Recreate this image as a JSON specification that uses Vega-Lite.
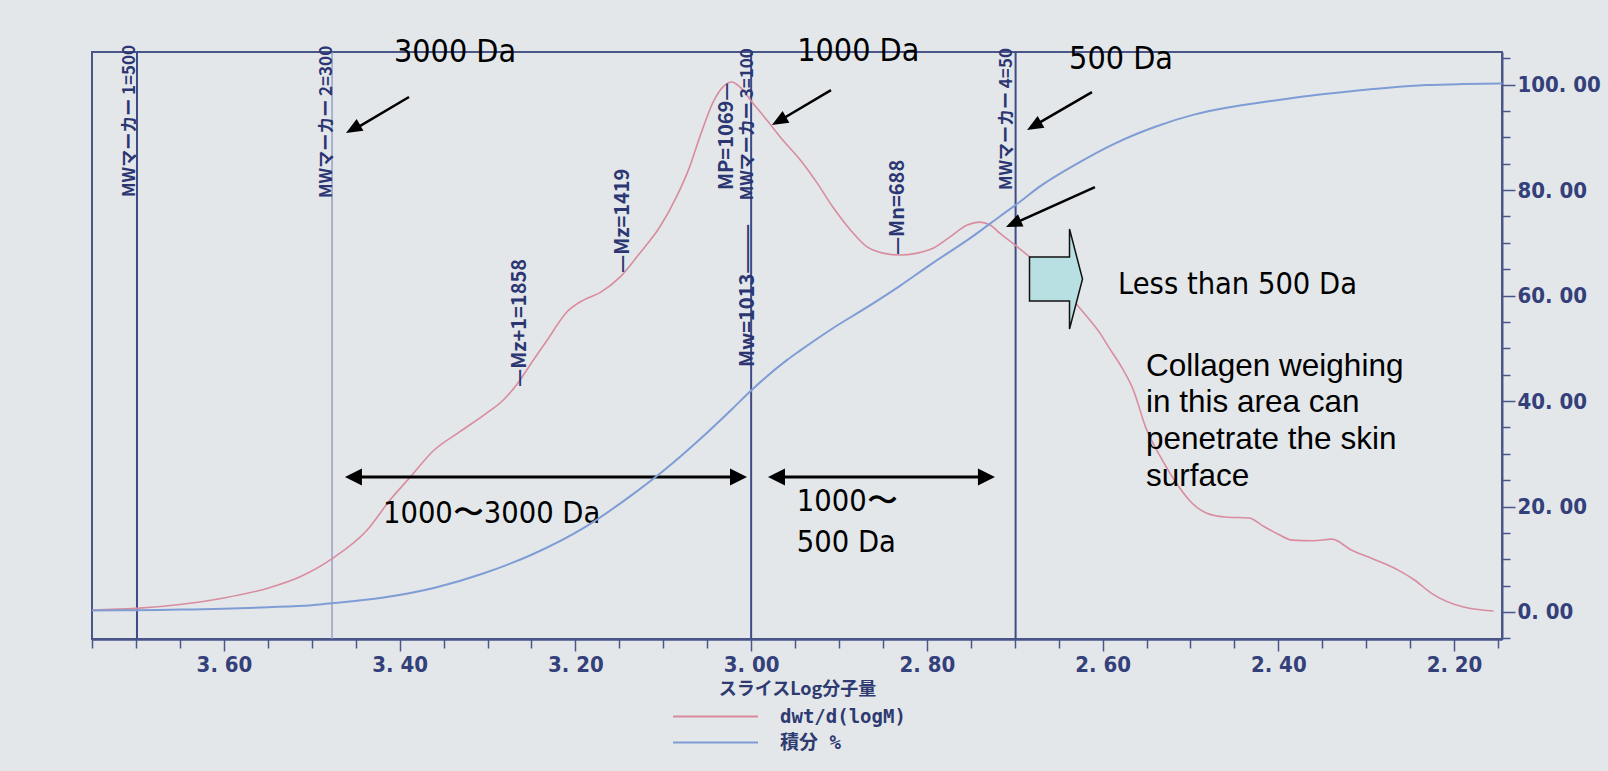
{
  "$schema": "https://vega.github.io/schema/vega-lite/v6.json",
  "width": 1410,
  "height": 587,
  "autosize": {"type": "none"},
  "padding": {"left": 92, "top": 52, "right": 106, "bottom": 132},
  "background": "#e3e7ea",
  "config": {
    "view": {"stroke": "#4a5688", "strokeWidth": 2},
    "axis": {
      "grid": false,
      "domainColor": "#4a5688",
      "domainWidth": 2,
      "tickColor": "#4a5688",
      "tickWidth": 1.5,
      "labelFont": "DejaVu Sans Condensed",
      "labelFontWeight": "bold",
      "labelFontSize": 22,
      "labelColor": "#34407a",
      "labelOverlap": false,
      "labelFlush": false
    },
    "legend": {
      "symbolType": "M-8.5,0L8.5,0",
      "symbolSize": 100,
      "symbolStrokeWidth": 2,
      "labelFont": "DejaVu Sans Mono, Noto Sans CJK JP",
      "labelFontSize": 19,
      "labelFontWeight": "bold",
      "labelColor": "#2e3a70",
      "labelOffset": 55,
      "rowPadding": 6,
      "padding": 0
    }
  },
  "datasets": {
    "pink": [
      {"logM": 3.75, "v": 0.003}, {"logM": 3.70, "v": 0.008}, {"logM": 3.65, "v": 0.02}, {"logM": 3.60, "v": 0.04},
      {"logM": 3.55, "v": 0.07}, {"logM": 3.514, "v": 0.104}, {"logM": 3.476, "v": 0.162}, {"logM": 3.437, "v": 0.248},
      {"logM": 3.411, "v": 0.34}, {"logM": 3.388, "v": 0.41}, {"logM": 3.362, "v": 0.49}, {"logM": 3.331, "v": 0.55},
      {"logM": 3.301, "v": 0.606}, {"logM": 3.282, "v": 0.646}, {"logM": 3.265, "v": 0.70}, {"logM": 3.248, "v": 0.768},
      {"logM": 3.232, "v": 0.83}, {"logM": 3.21, "v": 0.915}, {"logM": 3.191, "v": 0.952}, {"logM": 3.172, "v": 0.975},
      {"logM": 3.149, "v": 1.023}, {"logM": 3.127, "v": 1.095}, {"logM": 3.104, "v": 1.176}, {"logM": 3.085, "v": 1.268},
      {"logM": 3.07, "v": 1.36}, {"logM": 3.058, "v": 1.455}, {"logM": 3.043, "v": 1.56}, {"logM": 3.032, "v": 1.605},
      {"logM": 3.022, "v": 1.62}, {"logM": 3.013, "v": 1.605}, {"logM": 2.998, "v": 1.555}, {"logM": 2.982, "v": 1.503},
      {"logM": 2.964, "v": 1.442}, {"logM": 2.944, "v": 1.381}, {"logM": 2.925, "v": 1.311}, {"logM": 2.907, "v": 1.237},
      {"logM": 2.887, "v": 1.167}, {"logM": 2.868, "v": 1.115}, {"logM": 2.85, "v": 1.096}, {"logM": 2.831, "v": 1.09},
      {"logM": 2.811, "v": 1.096}, {"logM": 2.793, "v": 1.111}, {"logM": 2.774, "v": 1.145}, {"logM": 2.754, "v": 1.182},
      {"logM": 2.74, "v": 1.191}, {"logM": 2.728, "v": 1.182}, {"logM": 2.717, "v": 1.157}, {"logM": 2.697, "v": 1.115},
      {"logM": 2.679, "v": 1.075}, {"logM": 2.66, "v": 1.023}, {"logM": 2.641, "v": 0.974}, {"logM": 2.622, "v": 0.915},
      {"logM": 2.603, "v": 0.851}, {"logM": 2.593, "v": 0.808}, {"logM": 2.578, "v": 0.745}, {"logM": 2.565, "v": 0.677},
      {"logM": 2.551, "v": 0.563}, {"logM": 2.532, "v": 0.462}, {"logM": 2.513, "v": 0.38}, {"logM": 2.498, "v": 0.33},
      {"logM": 2.482, "v": 0.30}, {"logM": 2.461, "v": 0.288}, {"logM": 2.433, "v": 0.285}, {"logM": 2.419, "v": 0.263},
      {"logM": 2.40, "v": 0.235}, {"logM": 2.384, "v": 0.217}, {"logM": 2.36, "v": 0.215}, {"logM": 2.339, "v": 0.22},
      {"logM": 2.317, "v": 0.187}, {"logM": 2.29, "v": 0.157}, {"logM": 2.264, "v": 0.126}, {"logM": 2.245, "v": 0.095},
      {"logM": 2.226, "v": 0.055}, {"logM": 2.189, "v": 0.012}, {"logM": 2.155, "v": 0.0}
    ],
    "blue": [
      {"logM": 3.75, "pct": 0.3}, {"logM": 3.70, "pct": 0.35}, {"logM": 3.65, "pct": 0.45}, {"logM": 3.60, "pct": 0.6},
      {"logM": 3.55, "pct": 0.9}, {"logM": 3.50, "pct": 1.3}, {"logM": 3.474, "pct": 1.7}, {"logM": 3.42, "pct": 2.7},
      {"logM": 3.36, "pct": 4.6}, {"logM": 3.305, "pct": 7.3}, {"logM": 3.248, "pct": 11.0}, {"logM": 3.19, "pct": 16.0},
      {"logM": 3.134, "pct": 22.4}, {"logM": 3.096, "pct": 27.3}, {"logM": 3.058, "pct": 32.8}, {"logM": 3.021, "pct": 38.6},
      {"logM": 3.00, "pct": 42.0}, {"logM": 2.959, "pct": 47.8}, {"logM": 2.944, "pct": 49.6}, {"logM": 2.907, "pct": 53.8},
      {"logM": 2.868, "pct": 57.8}, {"logM": 2.831, "pct": 61.8}, {"logM": 2.793, "pct": 66.2}, {"logM": 2.754, "pct": 70.5},
      {"logM": 2.717, "pct": 75.0}, {"logM": 2.694, "pct": 77.8}, {"logM": 2.672, "pct": 80.6}, {"logM": 2.628, "pct": 85.1},
      {"logM": 2.585, "pct": 88.9}, {"logM": 2.54, "pct": 92.0}, {"logM": 2.496, "pct": 94.3}, {"logM": 2.452, "pct": 95.8},
      {"logM": 2.40, "pct": 97.1}, {"logM": 2.364, "pct": 97.9}, {"logM": 2.32, "pct": 98.7}, {"logM": 2.275, "pct": 99.4},
      {"logM": 2.231, "pct": 99.9}, {"logM": 2.19, "pct": 100.1}, {"logM": 2.145, "pct": 100.2}
    ],
    "markers": [
      {"marker": "1", "mw": 5000, "logM": 3.699},
      {"marker": "3", "mw": 1000, "logM": 3.0},
      {"marker": "4", "mw": 500, "logM": 2.699}
    ],
    "marker2": [
      {"marker": "2", "mw": 3000, "logM": 3.477}
    ],
    "markerLabels": [
      {"label": "MWマーカー 1=500", "logM": 3.707, "v": 1.268},
      {"label": "MWマーカー 2=300", "logM": 3.4828, "v": 1.265},
      {"label": "MWマーカー 3=100", "logM": 3.0036, "v": 1.258},
      {"label": "MWマーカー 4=50", "logM": 2.7088, "v": 1.289}
    ],
    "avgLabels": [
      {"label": "MP=1069—", "logM": 3.0275, "v": 1.289},
      {"label": "Mw=1013———", "logM": 3.0036, "v": 0.747},
      {"label": "—Mz+1=1858", "logM": 3.2631, "v": 0.686},
      {"label": "—Mz=1419", "logM": 3.1459, "v": 1.035},
      {"label": "—Mn=688", "logM": 2.8329, "v": 1.09}
    ],
    "topnotes": [
      {"note": "3000 Da", "logM": 3.337, "v": 1.711},
      {"note": "1000 Da", "logM": 2.878, "v": 1.715},
      {"note": "500 Da", "logM": 2.579, "v": 1.690}
    ],
    "leftnotes": [
      {"note": "Less than 500 Da", "logM": 2.5825, "v": 0.998},
      {"note": "1000〜3000 Da", "logM": 3.419, "v": 0.297},
      {"note": "1000〜", "logM": 2.948, "v": 0.334},
      {"note": "500 Da", "logM": 2.948, "v": 0.208}
    ],
    "collagen": [
      {"note": "Collagen weighing", "logM": 2.5506, "v": 0.747},
      {"note": "in this area can", "logM": 2.5506, "v": 0.637},
      {"note": "penetrate the skin", "logM": 2.5506, "v": 0.524},
      {"note": "surface", "logM": 2.5506, "v": 0.410}
    ],
    "diagArrows": [
      {"arrow": "3000", "logM": 3.3894, "v": 1.574, "logM2": 3.4512, "v2": 1.4758},
      {"arrow": "1000", "logM": 2.9091, "v": 1.5952, "logM2": 2.9665, "v2": 1.5037},
      {"arrow": "500", "logM": 2.6121, "v": 1.5891, "logM2": 2.6763, "v2": 1.4884},
      {"arrow": "peak", "logM": 2.6087, "v": 1.2982, "logM2": 2.6996, "v2": 1.1883}
    ],
    "heads150": [
      {"arrow": "3000", "logM": 3.4611, "v": 1.4636},
      {"arrow": "1000", "logM": 2.9763, "v": 1.4881},
      {"arrow": "500", "logM": 2.6860, "v": 1.4728}
    ],
    "heads156": [
      {"arrow": "peak", "logM": 2.7100, "v": 1.1758}
    ],
    "spanArrows": [
      {"span": "1000-3000", "logM": 3.4509, "v": 0.41, "logM2": 3.0161},
      {"span": "500-1000", "logM": 2.9694, "v": 0.41, "logM2": 2.7339}
    ],
    "headsLeft": [
      {"span": "1000-3000", "logM": 3.4623, "v": 0.41},
      {"span": "500-1000", "logM": 2.9808, "v": 0.41}
    ],
    "headsRight": [
      {"span": "1000-3000", "logM": 3.0047, "v": 0.41},
      {"span": "500-1000", "logM": 2.7225, "v": 0.41}
    ],
    "block": [
      {"region": "below 500 Da", "logM": 2.653, "v": 1.0165}
    ]
  },
  "encoding": {
    "x": {
      "field": "logM",
      "type": "quantitative",
      "scale": {"domain": [2.1454, 3.7502], "reverse": true, "nice": false, "zero": false},
      "axis": {
        "values": [3.75, 3.7, 3.65, 3.6, 3.55, 3.5, 3.45, 3.4, 3.35, 3.3, 3.25, 3.2, 3.15, 3.1, 3.05, 3.0, 2.95, 2.9, 2.85, 2.8, 2.75, 2.7, 2.65, 2.6, 2.55, 2.5, 2.45, 2.4, 2.35, 2.3, 2.25, 2.2, 2.15],
        "labelExpr": "abs(datum.value*5 - round(datum.value*5)) < 0.001 ? replace(format(datum.value, '.2f'), '.', '. ') : ''",
        "tickSize": {"condition": {"test": "abs(datum.value*5 - round(datum.value*5)) < 0.001", "value": 12}, "value": 9},
        "labelPadding": 3,
        "domainWidth": 2.5,
        "title": "スライスLog分子量",
        "titleFont": "Noto Sans CJK JP",
        "titleFontSize": 18,
        "titleFontWeight": "bold",
        "titleColor": "#2e3a70",
        "titleY": 50,
        "titleBaseline": "middle"
      }
    }
  },
  "layer": [
    {
      "layer": [
        {
          "data": {"name": "markers"},
          "mark": {"type": "rule", "color": "#3f4b84", "strokeWidth": 2},
          "encoding": {}
        },
        {
          "data": {"name": "marker2"},
          "mark": {"type": "rule", "color": "#8c96c0", "strokeWidth": 1.3},
          "encoding": {}
        },
        {
          "data": {"name": "pink"},
          "mark": {"type": "line", "strokeWidth": 1.6, "interpolate": "monotone"},
          "encoding": {
            "y": {
              "field": "v",
              "type": "quantitative",
              "scale": {"domain": [-0.0857, 1.7118], "nice": false, "zero": false},
              "axis": {
                "values": [-0.05, 0, 0.05, 0.1, 0.15, 0.2, 0.25, 0.3, 0.35, 0.4, 0.45, 0.5, 0.55, 0.6, 0.65, 0.7, 0.75, 0.8, 0.85, 0.9, 0.95, 1.0, 1.05, 1.1, 1.15, 1.2, 1.25, 1.3, 1.35, 1.4, 1.45, 1.5, 1.55, 1.6, 1.65, 1.7],
                "labelExpr": "abs(datum.value*5 - round(datum.value*5)) < 0.001 ? replace(format(datum.value, '.2f'), '.', '. ') : ''",
                "tickSize": {"condition": {"test": "abs(datum.value*5 - round(datum.value*5)) < 0.001", "value": 12}, "value": 8},
                "labelPadding": 1,
                "title": null
              }
            },
            "color": {
              "datum": "dwt/d(logM)",
              "type": "nominal",
              "scale": {"domain": ["dwt/d(logM)", "積分 %"], "range": ["#d98c9e", "#7f9dd4"]},
              "legend": {"title": null, "orient": "none", "legendX": 614, "legendY": 655, "direction": "vertical"}
            }
          }
        },
        {
          "data": {"name": "markerLabels"},
          "mark": {"type": "text", "angle": 270, "align": "left", "baseline": "middle", "font": "Noto Sans CJK JP", "fontWeight": "bold", "fontSize": 17, "color": "#2b3672"},
          "encoding": {
            "y": {"field": "v", "type": "quantitative", "scale": {"domain": [-0.0857, 1.7118], "nice": false, "zero": false}, "axis": null},
            "text": {"field": "label"}
          }
        },
        {
          "data": {"name": "avgLabels"},
          "mark": {"type": "text", "angle": 270, "align": "left", "baseline": "middle", "font": "Noto Sans CJK JP", "fontWeight": "bold", "fontSize": 20, "color": "#2b3672"},
          "encoding": {
            "y": {"field": "v", "type": "quantitative", "scale": {"domain": [-0.0857, 1.7118], "nice": false, "zero": false}, "axis": null},
            "text": {"field": "label"}
          }
        },
        {
          "data": {"name": "topnotes"},
          "mark": {"type": "text", "align": "center", "baseline": "middle", "font": "DejaVu Sans Condensed", "fontSize": 32, "color": "#000000"},
          "encoding": {
            "y": {"field": "v", "type": "quantitative", "scale": {"domain": [-0.0857, 1.7118], "nice": false, "zero": false}, "axis": null},
            "text": {"field": "note"}
          }
        },
        {
          "data": {"name": "leftnotes"},
          "mark": {"type": "text", "align": "left", "baseline": "middle", "font": "DejaVu Sans Condensed", "fontSize": 30.5, "color": "#000000"},
          "encoding": {
            "y": {"field": "v", "type": "quantitative", "scale": {"domain": [-0.0857, 1.7118], "nice": false, "zero": false}, "axis": null},
            "text": {"field": "note"}
          }
        },
        {
          "data": {"name": "collagen"},
          "mark": {"type": "text", "align": "left", "baseline": "middle", "font": "Liberation Sans, Arial", "fontSize": 31.5, "color": "#000000"},
          "encoding": {
            "y": {"field": "v", "type": "quantitative", "scale": {"domain": [-0.0857, 1.7118], "nice": false, "zero": false}, "axis": null},
            "text": {"field": "note"}
          }
        },
        {
          "data": {"name": "diagArrows"},
          "mark": {"type": "rule", "color": "#000000", "strokeWidth": 2.5},
          "encoding": {
            "y": {"field": "v", "type": "quantitative", "scale": {"domain": [-0.0857, 1.7118], "nice": false, "zero": false}, "axis": null},
            "x2": {"field": "logM2"},
            "y2": {"field": "v2"}
          }
        },
        {
          "data": {"name": "spanArrows"},
          "mark": {"type": "rule", "color": "#000000", "strokeWidth": 3},
          "encoding": {
            "y": {"field": "v", "type": "quantitative", "scale": {"domain": [-0.0857, 1.7118], "nice": false, "zero": false}, "axis": null},
            "x2": {"field": "logM2"}
          }
        },
        {
          "data": {"name": "heads150"},
          "mark": {"type": "point", "shape": "M0,0 L-1.8,-0.75 L-1.8,0.75 Z", "size": 324, "angle": 150, "filled": true, "color": "#000000", "opacity": 1},
          "encoding": {
            "y": {"field": "v", "type": "quantitative", "scale": {"domain": [-0.0857, 1.7118], "nice": false, "zero": false}, "axis": null}
          }
        },
        {
          "data": {"name": "heads156"},
          "mark": {"type": "point", "shape": "M0,0 L-1.8,-0.75 L-1.8,0.75 Z", "size": 324, "angle": 156, "filled": true, "color": "#000000", "opacity": 1},
          "encoding": {
            "y": {"field": "v", "type": "quantitative", "scale": {"domain": [-0.0857, 1.7118], "nice": false, "zero": false}, "axis": null}
          }
        },
        {
          "data": {"name": "headsLeft"},
          "mark": {"type": "point", "shape": "M0,0 L-1.7,-0.85 L-1.7,0.85 Z", "size": 400, "angle": 180, "filled": true, "color": "#000000", "opacity": 1},
          "encoding": {
            "y": {"field": "v", "type": "quantitative", "scale": {"domain": [-0.0857, 1.7118], "nice": false, "zero": false}, "axis": null}
          }
        },
        {
          "data": {"name": "headsRight"},
          "mark": {"type": "point", "shape": "M0,0 L-1.7,-0.85 L-1.7,0.85 Z", "size": 400, "angle": 0, "filled": true, "color": "#000000", "opacity": 1},
          "encoding": {
            "y": {"field": "v", "type": "quantitative", "scale": {"domain": [-0.0857, 1.7118], "nice": false, "zero": false}, "axis": null}
          }
        },
        {
          "data": {"name": "block"},
          "mark": {"type": "point", "shape": "M-0.53,-0.44 L0.27,-0.44 L0.27,-1 L0.53,0 L0.27,1 L0.27,0.44 L-0.53,0.44 Z", "size": 10000, "filled": true, "fill": "#b8e0e2", "stroke": "#111111", "strokeWidth": 1.5, "opacity": 1},
          "encoding": {
            "y": {"field": "v", "type": "quantitative", "scale": {"domain": [-0.0857, 1.7118], "nice": false, "zero": false}, "axis": null}
          }
        }
      ]
    },
    {
      "data": {"name": "blue"},
      "mark": {"type": "line", "strokeWidth": 2, "interpolate": "monotone"},
      "encoding": {
        "y": {
          "field": "pct",
          "type": "quantitative",
          "scale": {"domain": [-5.12, 106.18], "nice": false, "zero": false},
          "axis": {
            "orient": "right",
            "values": [-5, 0, 5, 10, 15, 20, 25, 30, 35, 40, 45, 50, 55, 60, 65, 70, 75, 80, 85, 90, 95, 100, 105],
            "labelExpr": "abs(datum.value/20 - round(datum.value/20)) < 0.001 ? replace(format(datum.value, '.2f'), '.', '. ') : ''",
            "tickSize": {"condition": {"test": "abs(datum.value/20 - round(datum.value/20)) < 0.001", "value": 13}, "value": 8},
            "labelPadding": 2,
            "title": null
          }
        },
        "color": {
          "datum": "積分 %",
          "type": "nominal",
          "scale": {"domain": ["dwt/d(logM)", "積分 %"], "range": ["#d98c9e", "#7f9dd4"]}
        }
      }
    }
  ],
  "resolve": {"scale": {"y": "independent"}}
}
